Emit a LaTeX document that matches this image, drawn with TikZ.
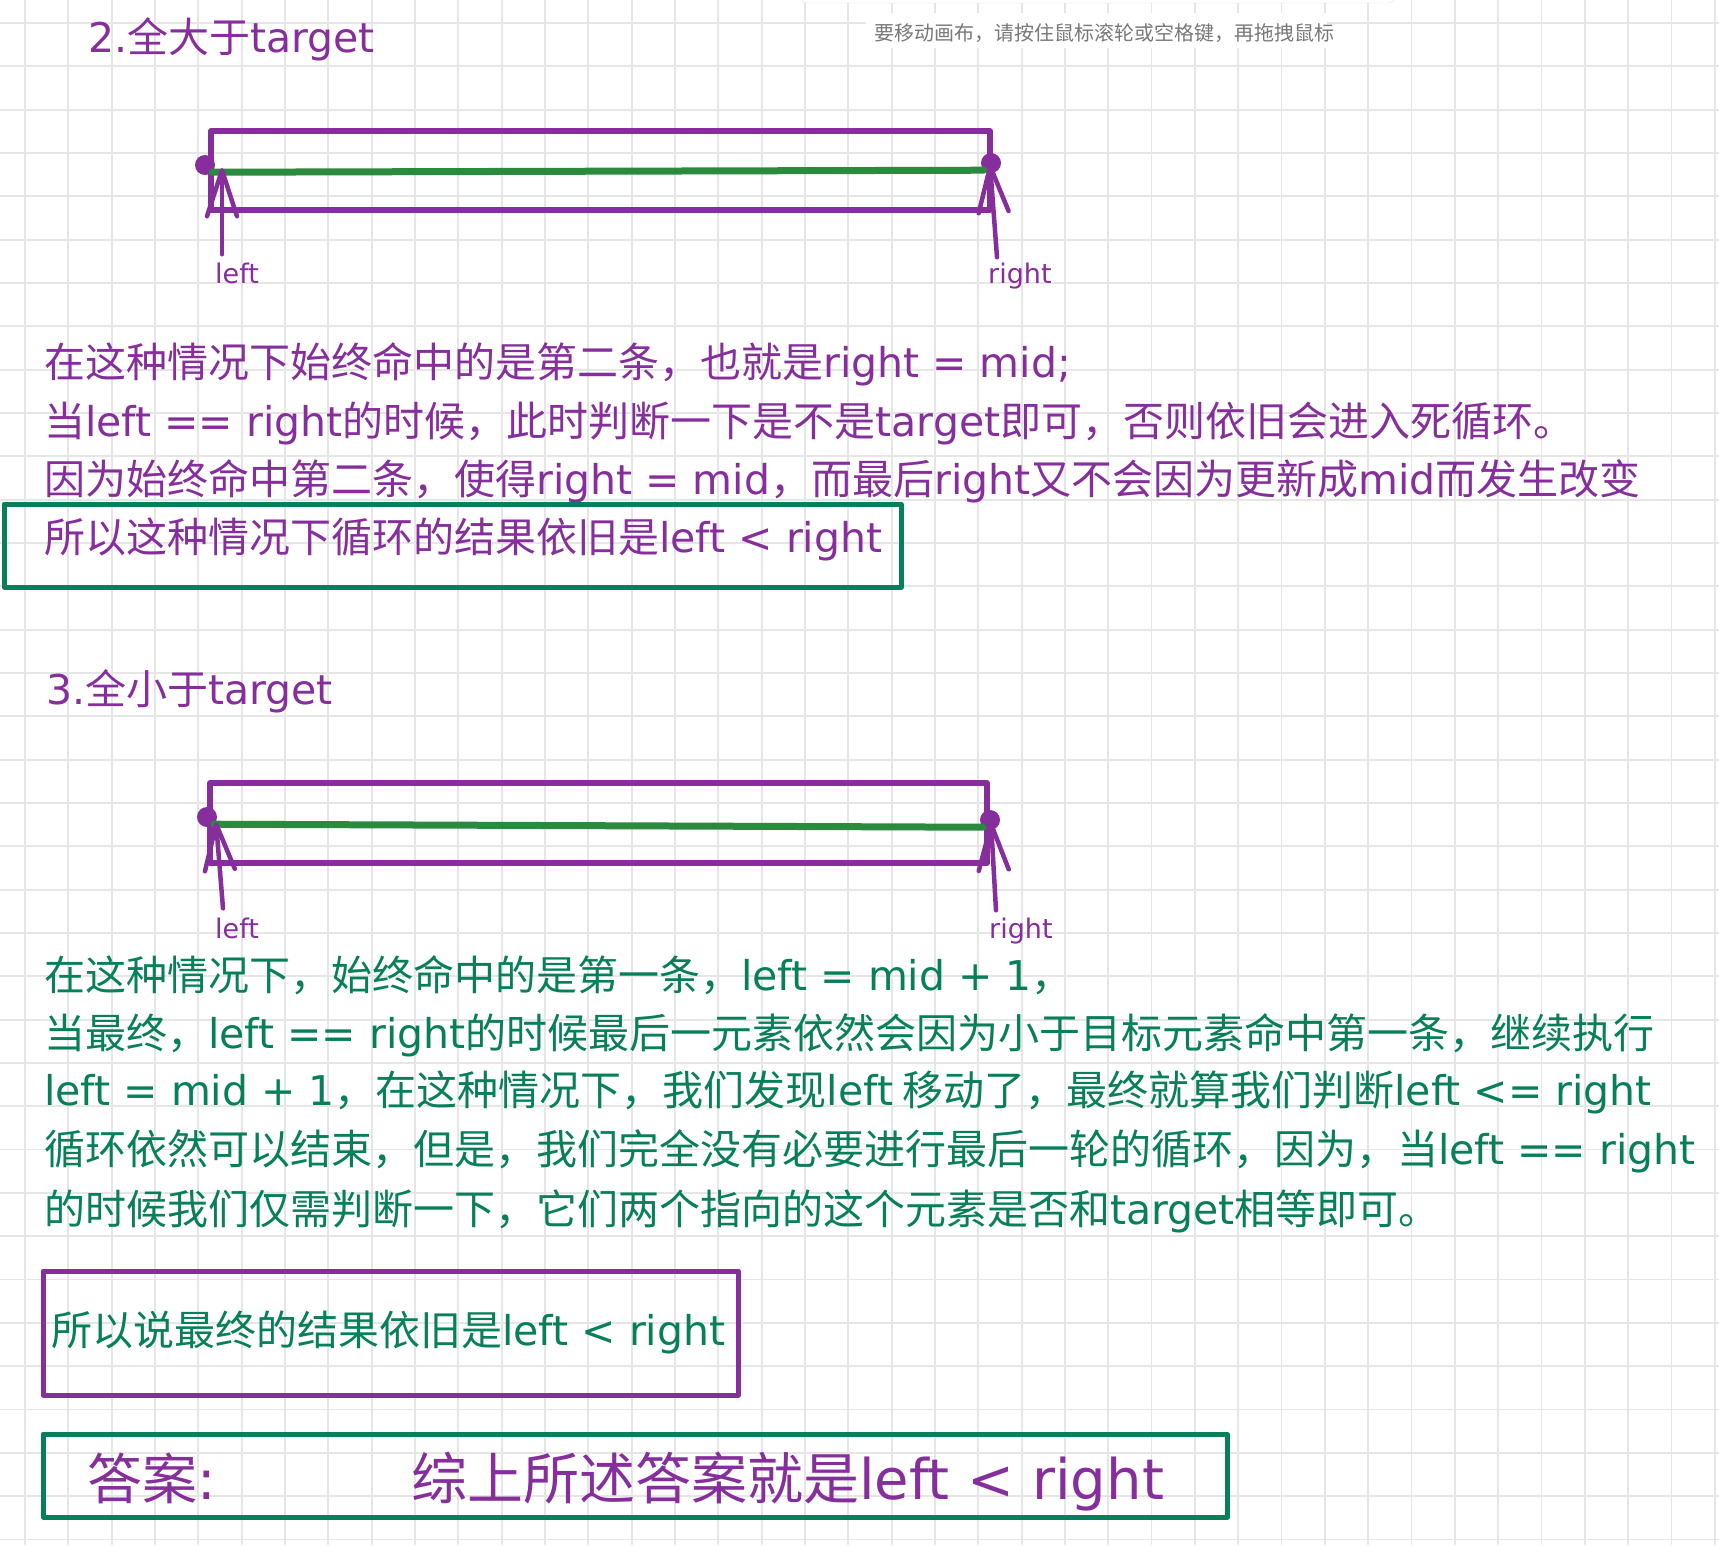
\documentclass[tikz,border=0pt]{standalone}
\usepackage{fontspec}
\setmainfont{Noto Sans CJK SC}
\newfontfamily\handfont{DejaVu Sans}
\usepackage{tikz}
\usetikzlibrary{arrows.meta}
\usepackage{xcolor}
\definecolor{strokepurple}{RGB}{134,46,156}
\definecolor{strokegreen}{RGB}{43,138,62}
\definecolor{noteteal}{RGB}{8,127,91}
\definecolor{gridgray}{RGB}{230,230,230}
\definecolor{hintgray}{RGB}{120,120,120}
\newcommand{\en}[1]{{\handfont #1}}

\begin{document}
\begin{tikzpicture}[x=1pt,y=-1pt]
  \tikzset{
    gridline/.style={draw=gridgray,line width=1.8pt},
    body/.style={anchor=base west,inner sep=0pt,font=\fontsize{41}{48}\selectfont},
    purpletext/.style={body,text=strokepurple},
    tealtext/.style={body,text=noteteal},
    heading/.style={purpletext,font=\fontsize{41}{48}\selectfont},
    tag/.style={anchor=base west,inner sep=0pt,text=strokepurple,font=\fontsize{27}{30}\selectfont\handfont},
    bar/.style={draw=strokepurple,line width=5.5pt,line join=round},
    cut/.style={draw=strokegreen,line width=7pt,line cap=round},
    dot/.style={circle,fill=strokepurple,inner sep=0pt,minimum size=20pt},
    pointer/.style={draw=strokepurple,line width=4.5pt,line cap=round,-{Straight Barb[length=46pt,width=30pt,round]}},
    framebox/.style={line width=5pt,line join=round},
  }
  \useasboundingbox (0,0) rectangle (1719,1545);
  \fill[white] (0,0) rectangle (1719,1545);
  \foreach \gx in {0,...,39} \draw[gridline] ({25+43.33*\gx},0) -- ({25+43.33*\gx},1545);
  \foreach \gy in {0,...,35} \draw[gridline] (0,{23+43.33*\gy}) -- (1719,{23+43.33*\gy});

  % canvas hint
  \draw[draw=black!10,fill=white,rounded corners=8pt] (800,-20) rectangle (1396,3);
  \fill[white] (866,13) rectangle (1327,48);
  \node[anchor=base west,inner sep=0pt,text=hintgray,font=\fontsize{20}{24}\selectfont] (hint) at (874,40) {要移动画布，请按住鼠标滚轮或空格键，再拖拽鼠标};

  % 2. all greater
  \node[heading] (title2) at (88,52) {\en{2.}全大于\en{target}};
  \draw[bar] (211,131) rectangle (990,210);
  \node[dot] (d2l) at (205,165) {};
  \node[dot] (d2r) at (991,163) {};
  \draw[cut] (d2l.south east) -- (d2r.south west);
  \node[tag] (l2) at (215,283) {left};
  \node[tag] (r2) at (988,283) {right};
  \coordinate (tip2l) at (222,168);
  \coordinate (tip2r) at (990,164);
  \draw[pointer] ([xshift=7pt,yshift=8pt]l2.north west) -- (tip2l);
  \draw[pointer] ([xshift=9pt,yshift=5pt]r2.north west) -- (tip2r);

  \node[purpletext] (s2a) at (44,377) {在这种情况下始终命中的是第二条，也就是\en{right = mid;}};
  \node[purpletext] (s2b) at (44,436) {当\en{left == right}的时候，此时判断一下是不是\en{target}即可，否则依旧会进入死循环。};
  \node[purpletext] (s2c) at (44,494) {因为始终命中第二条，使得\en{right = mid}，而最后\en{right}又不会因为更新成\en{mid}而发生改变};
  \node[purpletext] (s2d) at (44,552) {所以这种情况下循环的结果依旧是\en{left < right}};
  \draw[noteteal,framebox] (4,504) rectangle (901,587);

  % 3. all smaller
  \node[heading] (title3) at (46,704) {\en{3.}全小于\en{target}};
  \draw[bar] (210,783) rectangle (987,863);
  \node[dot] (d3l) at (207,817) {};
  \node[dot] (d3r) at (990,820) {};
  \draw[cut] (d3l.south east) -- (d3r.south west);
  \node[tag] (l3) at (215,938) {left};
  \node[tag] (r3) at (989,938) {right};
  \coordinate (tip3l) at (216,822);
  \coordinate (tip3r) at (991,822);
  \draw[pointer] ([xshift=8pt,yshift=9pt]l3.north west) -- (tip3l);
  \draw[pointer] ([xshift=7pt,yshift=7pt]r3.north west) -- (tip3r);

  \node[tealtext] (s3a) at (44,990) {在这种情况下，始终命中的是第一条，\en{left = mid + 1}，};
  \node[tealtext] (s3b) at (44,1048) {当最终，\en{left == right}的时候最后一元素依然会因为小于目标元素命中第一条，继续执行};
  \node[tealtext] (s3c) at (44,1105) {\en{left = mid + 1}，在这种情况下，我们发现\en{left} 移动了，最终就算我们判断\en{left <= right}};
  \node[tealtext] (s3d) at (44,1164) {循环依然可以结束，但是，我们完全没有必要进行最后一轮的循环，因为，当\en{left == right}};
  \node[tealtext] (s3e) at (44,1224) {的时候我们仅需判断一下，它们两个指向的这个元素是否和\en{target}相等即可。};

  % conclusion
  \draw[strokepurple,framebox] (43,1271) rectangle (738,1395);
  \node[tealtext] (s4) at (51,1345) {所以说最终的结果依旧是\en{left < right}};
  \draw[noteteal,framebox] (43,1434) rectangle (1227,1517);
  \node[purpletext,font=\fontsize{55}{60}\selectfont] (ans) at (87,1499) {答案\en{:}};
  \node[purpletext,font=\fontsize{56}{60}\selectfont] (sum) at (411,1499) {综上所述答案就是\en{left < right}};
\end{tikzpicture}
\end{document}
